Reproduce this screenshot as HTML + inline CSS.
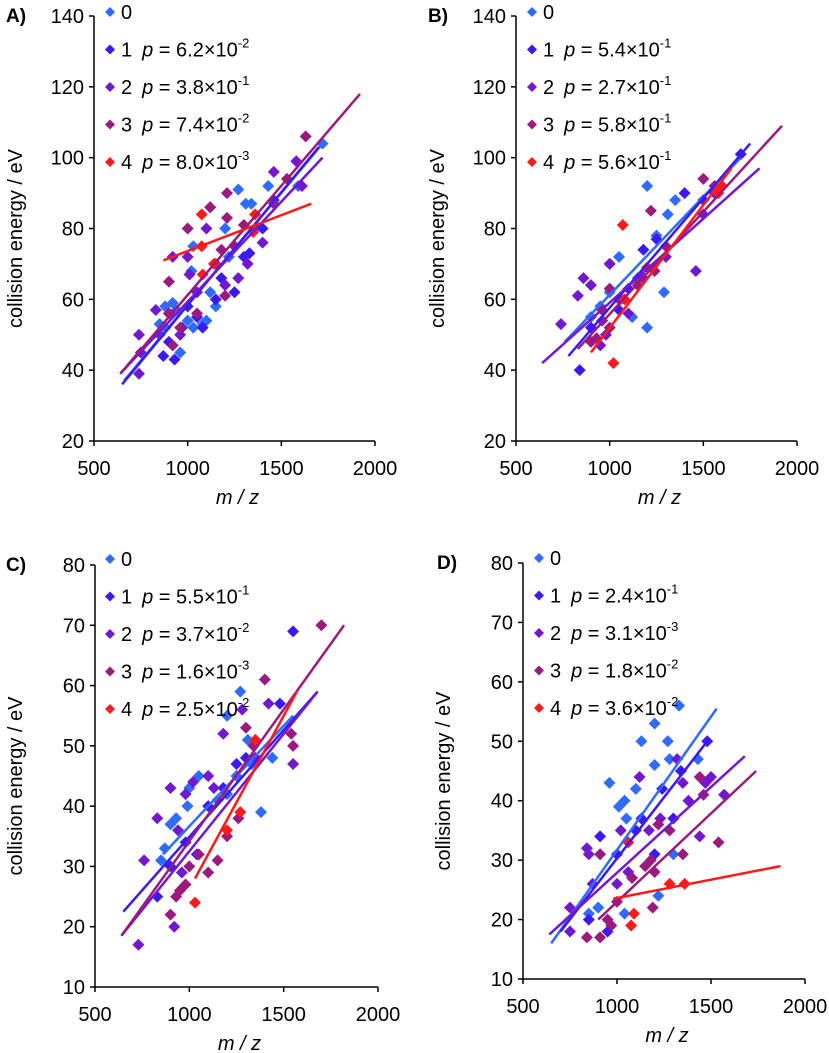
<!DOCTYPE html>
<html><head><meta charset="utf-8"><style>
html,body{margin:0;padding:0;background:#fff}
svg{display:block;font-family:"Liberation Sans",Arial,sans-serif}
</style></head><body>
<svg id="fig" width="829" height="1053" viewBox="0 0 829 1053" xmlns="http://www.w3.org/2000/svg"></svg>
<script>
const seriesLabels = ["0","1","2","3","4"];
const colors = ["#2f6bff","#3a1af0","#7418d0","#9a1a7e","#ff1a1a"];
const xTicks = [500,1000,1500,2000];
const yTicksAB = [20,40,60,80,100,120,140];
const yTicksCD = [10,20,30,40,50,60,70,80];
const pA = ["6.2×10","-2","3.8×10","-1","7.4×10","-2","8.0×10","-3"];
const pB = ["5.4×10","-1","2.7×10","-1","5.8×10","-1","5.6×10","-1"];
const pC = ["5.5×10","-1","3.7×10","-2","1.6×10","-3","2.5×10","-2"];
const pD = ["2.4×10","-1","3.1×10","-3","1.8×10","-2","3.6×10","-2"];
// points [mz, energy]
const A0 = [[850,53],[880,58],[900,56],[920,59],[940,57],[960,45],[1000,54],[1020,68],[1030,52],[1050,55],[1080,53],[1100,54],[1150,58],[1200,80],[1220,72],[1270,91],[1310,87],[1340,87],[1360,80],[1430,92],[1590,92],[1720,104],[1030,75],[1120,62],[880,52]];
const A1 = [[870,44],[930,43],[900,48],[970,52],[1050,55],[1080,52],[1150,60],[1250,62],[1300,72],[1330,73],[1400,80],[1460,88],[1000,58],[1180,66]];
const A2 = [[740,50],[750,45],[740,39],[830,57],[850,50],[920,72],[1000,72],[1010,67],[1100,80],[1120,86],[1200,64],[1270,66],[1320,70],[1400,76],[1460,96],[1580,99],[1610,92],[960,50],[1050,62]];
const A3 = [[900,65],[1000,80],[1120,86],[1210,90],[1210,83],[900,56],[920,47],[1050,56],[1150,70],[1200,61],[1250,75],[1300,81],[1460,87],[1530,94],[1630,106],[1180,74],[960,52]];
const A4 = [[1075,84],[1075,75],[1080,67],[1350,79],[1360,84],[1140,70]];
const B0 = [[900,55],[1000,62],[1060,60],[1120,55],[1150,66],[1200,92],[1250,78],[1310,84],[1350,88],[1200,52],[1050,72],[950,58],[1290,62]];
const B1 = [[840,40],[900,52],[1000,70],[1100,63],[1180,74],[1250,77],[1400,90],[1500,88],[1700,101],[1050,57]];
const B2 = [[740,53],[830,61],[860,66],[900,64],[950,47],[980,50],[1000,70],[1100,56],[1180,66],[1300,72],[1460,68],[1560,90],[1500,84],[960,54]];
const B3 = [[900,48],[930,49],[960,57],[1000,63],[1050,60],[1150,64],[1220,85],[1240,68],[1300,75],[1500,94],[1560,92],[1000,52]];
const B4 = [[1020,42],[1070,81],[1600,92],[1580,90],[1200,69],[1080,60]];
const C0 = [[850,31],[870,33],[900,37],[930,38],[990,40],[1000,43],[1050,45],[1150,41],[1200,42],[1250,45],[1270,59],[1310,51],[1330,47],[1380,39],[1440,48],[1200,55]];
const C1 = [[830,25],[900,30],[980,34],[1100,40],[1180,43],[1250,47],[1300,48],[1480,57],[1550,69],[1040,32]];
const C2 = [[730,17],[760,31],[830,38],[900,43],[940,36],[960,29],[980,42],[1020,44],[1100,45],[1130,43],[1180,52],[1280,56],[1350,48],[1420,57],[1550,47],[920,20]];
const C3 = [[900,22],[930,25],[950,26],[980,27],[1000,30],[1050,32],[1100,29],[1150,31],[1200,35],[1300,53],[1340,50],[1400,61],[1540,52],[1550,50],[1700,70],[1260,38]];
const C4 = [[1030,24],[1270,39],[1350,51],[1200,36]];
const D0 = [[850,21],[900,22],[960,43],[1010,39],[1040,40],[1050,37],[1100,42],[1130,50],[1200,53],[1270,50],[1280,47],[1330,56],[1430,47],[1200,46],[1220,24],[1040,21],[1300,31]];
const D1 = [[850,20],[910,34],[1000,31],[1100,35],[1130,37],[1200,31],[1240,42],[1300,37],[1340,45],[1480,50],[950,18]];
const D2 = [[750,22],[750,18],[840,32],[850,31],[870,26],[1020,35],[1060,28],[1120,44],[1170,35],[1230,37],[1320,47],[1350,43],[1380,40],[1440,34],[1470,43],[1500,44],[1570,41],[1000,26]];
const D3 = [[840,17],[910,17],[910,31],[950,20],[970,19],[1000,23],[1080,27],[1150,29],[1190,22],[1200,28],[1220,36],[1280,35],[1350,31],[1440,44],[1460,41],[1540,33],[1180,30]];
const D4 = [[1075,19],[1090,21],[1280,26],[1360,26],[1060,33]];
// regression lines [x1,y1,x2,y2] per series
const LA = [[660,37,1720,104],[650,36,1700,103],[640,39,1720,100],[640,39,1920,118],[870,71,1660,87]];
const LB = [[760,48,1700,100],[780,44,1750,104],[640,42,1800,97],[830,46,1920,109],[900,45,1650,97]];
const LC = [[860,32,1550,55],[650,22.5,1680,59],[640,18.5,1680,59],[640,18.5,1820,70],[1030,28,1570,59]];
const LD = [[650,16,1530,55.5],[700,18,1480,50],[640,17.5,1680,47.5],[900,20,1740,45],[980,23.5,1870,29]];

const NS="http://www.w3.org/2000/svg";
const svg=document.getElementById('fig');
function mk(tag,attrs,parent,text){const e=document.createElementNS(NS,tag);for(const k in attrs)e.setAttribute(k,attrs[k]);if(text!==undefined)e.textContent=text;(parent||svg).appendChild(e);return e;}

function panel(cfg){
  const g=mk('g',{});
  
  
  const sx=v=>cfg.ox+(v-500)/1500*(cfg.xe-cfg.ox);
  const sy=v=>cfg.yb-(v-cfg.ymin)/(cfg.ymax-cfg.ymin)*(cfg.yb-cfg.yt);
  const lab=mk('text',{x:cfg.lx,y:cfg.yt+6,'font-size':19,'font-weight':'bold'},g,cfg.id+')');
  
  
  const ax=mk('path',{d:`M${cfg.ox},${cfg.yt}V${cfg.yb}H${cfg.xe}`,stroke:'#000','stroke-width':1.5,fill:'none'},g);
  
  
  cfg.yTicks.forEach(t=>{
    const y=sy(t);
    mk('line',{x1:cfg.ox-5,x2:cfg.ox,y1:y,y2:y,stroke:'#000','stroke-width':1.5},g);
    const tx=mk('text',{x:cfg.ox-10,y:y+7,'font-size':20,'text-anchor':'end'},g,t);
    
    
  });
  xTicks.forEach(t=>{
    const x=sx(t);
    mk('line',{x1:x,x2:x,y1:cfg.yb,y2:cfg.yb+5,stroke:'#000','stroke-width':1.5},g);
    const tx=mk('text',{x:x,y:cfg.yb+34,'font-size':20,'text-anchor':'middle'},g,t);
    
    
  });
  const yt=mk('text',{x:0,y:0,'font-size':20,'text-anchor':'middle',transform:`translate(${cfg.ytx},${(cfg.yt+cfg.yb)/2+10}) rotate(-90)`},g,'collision energy / eV');
  
  
  const xt=mk('text',{x:(cfg.ox+cfg.xe)/2+3,y:cfg.yb+63,'font-size':20,'font-style':'italic','text-anchor':'middle'},g,'m / z');
  
  
  cfg.pts.forEach((arr,i)=>{
    arr.forEach(p=>{
      const x=sx(p[0]),y=sy(p[1]);
      const d=mk('path',{d:`M${x},${y-6}L${x+6},${y}L${x},${y+6}L${x-6},${y}Z`,fill:colors[i]},g);
      
      
    });
  });
  cfg.lines.forEach((l,i)=>{
    const ln=mk('line',{x1:sx(l[0]),y1:sy(l[1]),x2:sx(l[2]),y2:sy(l[3]),stroke:colors[i],'stroke-width':2.5},g);
    
    
  });
  seriesLabels.forEach((s,i)=>{
    const y=cfg.legY+i*37.5, x=cfg.legX;
    const lg=mk('g',{},g);
    
    
    mk('path',{d:`M${x},${y-5}L${x+5},${y}L${x},${y+5}L${x-5},${y}Z`,fill:colors[i]},lg);
    const t=mk('text',{x:x+11,y:y+7,'font-size':20},lg);
    t.appendChild(document.createTextNode(s));
    if(i>0){
      mk('tspan',{'font-style':'italic',dx:10},t,'p');
      t.appendChild(document.createTextNode(' = '+cfg.p[(i-1)*2]));
      mk('tspan',{'font-size':13,dy:-9},t,cfg.p[(i-1)*2+1]);
    }
  });
}
panel({id:'A',ox:94,xe:375,yt:16,yb:441,ymin:20,ymax:140,yTicks:yTicksAB,lx:6,ytx:22,legX:110,legY:12,p:pA,pts:[A0,A1,A2,A3,A4],lines:LA});
panel({id:'B',ox:516,xe:797,yt:16,yb:441,ymin:20,ymax:140,yTicks:yTicksAB,lx:428,ytx:444,legX:532,legY:12,p:pB,pts:[B0,B1,B2,B3,B4],lines:LB});
panel({id:'C',ox:95,xe:378,yt:565,yb:987,ymin:10,ymax:80,yTicks:yTicksCD,lx:6,ytx:22,legX:110,legY:559,p:pC,pts:[C0,C1,C2,C3,C4],lines:LC});
panel({id:'D',ox:523,xe:805,yt:563,yb:979,ymin:10,ymax:80,yTicks:yTicksCD,lx:437,ytx:450,legX:539,legY:558,p:pD,pts:[D0,D1,D2,D3,D4],lines:LD});
</script>
</body></html>
